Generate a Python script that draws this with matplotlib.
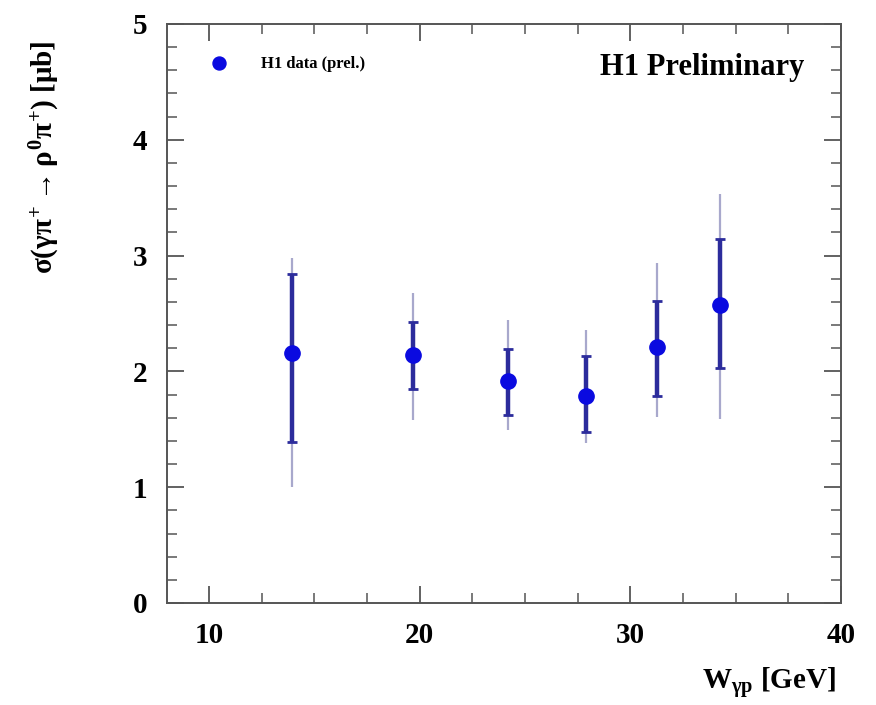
import matplotlib
matplotlib.use("Agg")
import matplotlib.pyplot as plt
from matplotlib.ticker import MultipleLocator

# cross section vs W_gp, H1 preliminary
w_gp = [13.95, 19.7, 24.2, 27.9, 31.25, 34.25]
sigma = [2.16, 2.14, 1.92, 1.785, 2.21, 2.57]
stat_up = [2.84, 2.43, 2.19, 2.13, 2.61, 3.14]
stat_dn = [1.39, 1.85, 1.62, 1.48, 1.79, 2.03]
tot_up = [2.98, 2.68, 2.44, 2.36, 2.94, 3.53]
tot_dn = [1.00, 1.58, 1.49, 1.38, 1.61, 1.59]

plt.rcParams['font.family'] = ['Liberation Serif', 'DejaVu Serif']
plt.rcParams['font.weight'] = 'bold'
plt.rcParams['axes.labelweight'] = 'bold'
plt.rcParams['mathtext.fontset'] = 'custom'
plt.rcParams['mathtext.rm'] = 'Liberation Serif:bold'
plt.rcParams['mathtext.it'] = 'Liberation Serif:bold'
plt.rcParams['mathtext.bf'] = 'Liberation Serif:bold'

fig = plt.figure(figsize=(8.76, 7.05), dpi=100)
ax = fig.add_axes([0.1906, 0.1447, 0.7694, 0.8213])

tot_err = [[s - d for s, d in zip(sigma, tot_dn)], [u - s for s, u in zip(sigma, tot_up)]]
stat_err = [[s - d for s, d in zip(sigma, stat_dn)], [u - s for s, u in zip(sigma, stat_up)]]

ax.errorbar(w_gp, sigma, yerr=tot_err, fmt='none', ecolor='#a8a8cc', elinewidth=1.6, capsize=0)
ax.errorbar(w_gp, sigma, yerr=stat_err, fmt='none', ecolor='#2c2c9c', elinewidth=3.2,
            capsize=3.5, capthick=2)
ax.plot(w_gp, sigma, 'o', color='#0a0ae0', markersize=11, label='H1 data (prel.)')

ax.set_xlim(8, 40)
ax.set_ylim(0, 5)
ax.xaxis.set_major_locator(MultipleLocator(10))
ax.xaxis.set_minor_locator(MultipleLocator(2.5))
ax.yaxis.set_major_locator(MultipleLocator(1))
ax.yaxis.set_minor_locator(MultipleLocator(0.2))
ax.tick_params(which='both', direction='in', top=True, right=True, labelsize=21, color='#555555')
ax.tick_params(which='major', length=12, width=1.3)
ax.tick_params(which='minor', length=7, width=1.1)
ax.tick_params(axis='x', pad=14)
ax.tick_params(axis='y', pad=14)
for sp in ax.spines.values():
    sp.set_color('#555555')
    sp.set_linewidth(1.4)

ax.set_ylabel(r'$\sigma(\gamma\pi^{+}\rightarrow\rho^{0}\pi^{+})$ [$\mu$b]', fontsize=21)
ax.yaxis.set_label_coords(-0.155, 0.77)
fig.text(0.955, 0.005, r'W$_{\gamma p}$ [GeV]', fontsize=21, ha='right', va='bottom')

ax.text(0.945, 0.925, 'H1 Preliminary', transform=ax.transAxes, fontsize=22,
        ha='right', va='center')
ax.legend(loc='upper left', bbox_to_anchor=(0.03, 0.97), frameon=False, fontsize=12,
          handletextpad=1.5, markerscale=0.85)

fig.savefig('out.png', dpi=100)
